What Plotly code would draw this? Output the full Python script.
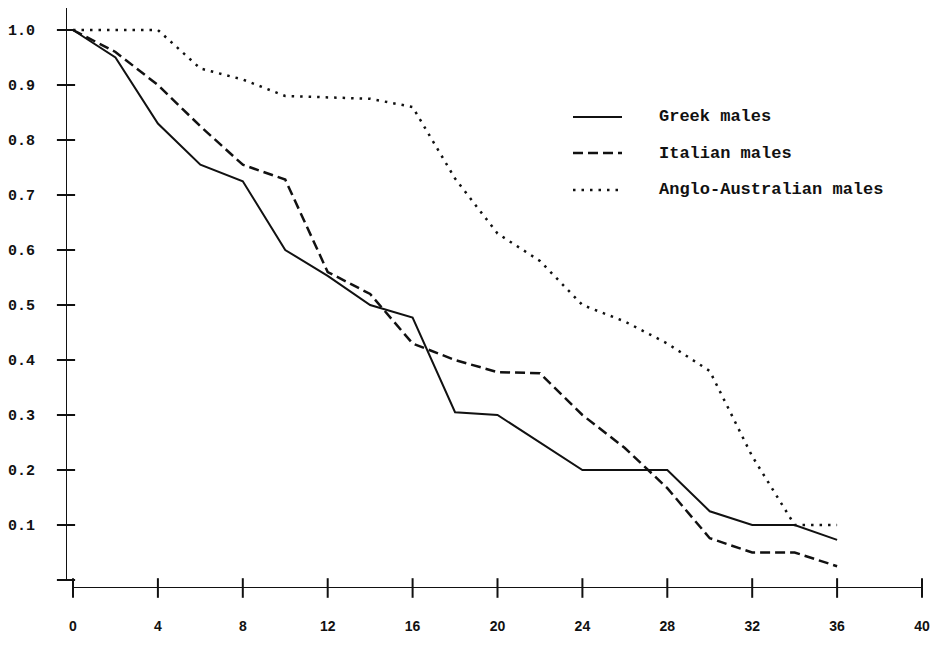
import plotly.graph_objects as go

# ---- data ----
months = [0, 2, 4, 6, 8, 10, 12, 14, 16, 18, 20, 22, 24, 26, 28, 30, 32, 34, 36]
greek = [1.0, 0.95, 0.83, 0.755, 0.725, 0.60, 0.553, 0.50, 0.477, 0.305, 0.30,
         0.25, 0.20, 0.20, 0.20, 0.125, 0.10, 0.10, 0.073]
italian = [1.0, 0.96, 0.90, 0.825, 0.755, 0.728, 0.56, 0.52, 0.43, 0.40, 0.378,
           0.376, 0.30, 0.24, 0.167, 0.076, 0.05, 0.05, 0.025]
anglo = [1.0, 1.0, 1.0, 0.93, 0.91, 0.88, 0.877, 0.875, 0.86, 0.73, 0.63,
         0.58, 0.50, 0.47, 0.43, 0.38, 0.225, 0.10, 0.10]

series_names = ["Greek males", "Italian males", "Anglo-Australian males"]
x_ticks = [0, 4, 8, 12, 16, 20, 24, 28, 32, 36, 40]
x_ticklabels = ["0", "4", "8", "12", "16", "20", "24", "28", "32", "36", "40"]
y_ticks = [0, 0.1, 0.2, 0.3, 0.4, 0.5, 0.6, 0.7, 0.8, 0.9, 1.0]
y_ticklabels = ["", "0.1", "0.2", "0.3", "0.4", "0.5", "0.6", "0.7", "0.8", "0.9", "1.0"]

# ---- geometry (pixels) ----
W, H = 941, 647
L, R = 66, 922      # plot left/right (y-axis line at L, x = 40 at R)
T, B = 8, 588       # plot top/bottom (x-axis line at B)
X0 = 73             # pixel of x = 0
Y0 = 580            # pixel of y = 0
XMAX = 40
YMAX = (Y0 - T) / 550

def px(xp):
    return (xp - L) / (R - L)

def py(yp):
    return (B - yp) / (B - T)

# data value where the (detached) axis lines sit
x_of_yaxis = -(X0 - L) * XMAX / (R - X0)
y_of_xaxis = -(B - Y0) * YMAX / (Y0 - T)

INK = "#111111"
styles = [dict(color=INK, width=2, dash="solid"),
          dict(color=INK, width=2.5, dash="10px,5px"),
          dict(color=INK, width=2.5, dash="2.5px,6px")]

fig = go.Figure()
for name, vals, st in zip(series_names, [greek, italian, anglo], styles):
    fig.add_trace(go.Scatter(x=months, y=vals, mode="lines", name=name,
                             line=st, showlegend=False, hoverinfo="x+y+name"))

# cross-shaped tick marks straddling each axis line
fig.add_trace(go.Scatter(x=x_ticks, y=[y_of_xaxis] * len(x_ticks), mode="markers",
                         marker=dict(symbol="line-ns", size=14, color=INK,
                                     line=dict(color=INK, width=2)),
                         cliponaxis=False, showlegend=False, hoverinfo="skip"))
fig.add_trace(go.Scatter(x=[x_of_yaxis] * len(y_ticks), y=y_ticks, mode="markers",
                         marker=dict(symbol="line-ew", size=13, color=INK,
                                     line=dict(color=INK, width=2)),
                         cliponaxis=False, showlegend=False, hoverinfo="skip"))

# detached axis lines
fig.add_shape(type="line", xref="x", yref="y", x0=0, x1=XMAX,
              y0=y_of_xaxis, y1=y_of_xaxis, line=dict(color=INK, width=2))
fig.add_shape(type="line", xref="x", yref="y", x0=x_of_yaxis, x1=x_of_yaxis,
              y0=0, y1=YMAX, line=dict(color=INK, width=2))

axis_common = dict(showgrid=False, zeroline=False, showline=False, ticks="")

fig.update_layout(
    width=W, height=H,
    margin=dict(l=L, r=W - R, t=T, b=H - B, pad=0),
    paper_bgcolor="white", plot_bgcolor="white",
    xaxis=dict(**axis_common, range=[x_of_yaxis, XMAX],
               tickmode="array", tickvals=x_ticks, ticktext=x_ticklabels,
               ticklabelstandoff=28,
               tickfont=dict(family="Liberation Sans", size=14, color=INK,
                             weight="bold")),
    yaxis=dict(**axis_common, range=[y_of_xaxis, YMAX],
               tickmode="array", tickvals=y_ticks, ticktext=y_ticklabels,
               ticklabelstandoff=30,
               tickfont=dict(family="Liberation Mono", size=15, color=INK,
                             weight="bold")),
)

# ---- legend drawn as key lines + labels ----
legend_rows = [117, 153, 190]
for name, st, yp in zip(series_names, styles, legend_rows):
    fig.add_shape(type="line", xref="paper", yref="paper",
                  x0=px(573), x1=px(622), y0=py(yp), y1=py(yp),
                  line=dict(color=INK, width=st["width"], dash=st["dash"]))
    fig.add_annotation(xref="paper", yref="paper", x=px(657), y=py(yp),
                       text=name, showarrow=False, xanchor="left", yanchor="middle",
                       font=dict(family="Liberation Mono", size=17, color=INK,
                                 weight="bold"))

fig.write_html("out.html")
